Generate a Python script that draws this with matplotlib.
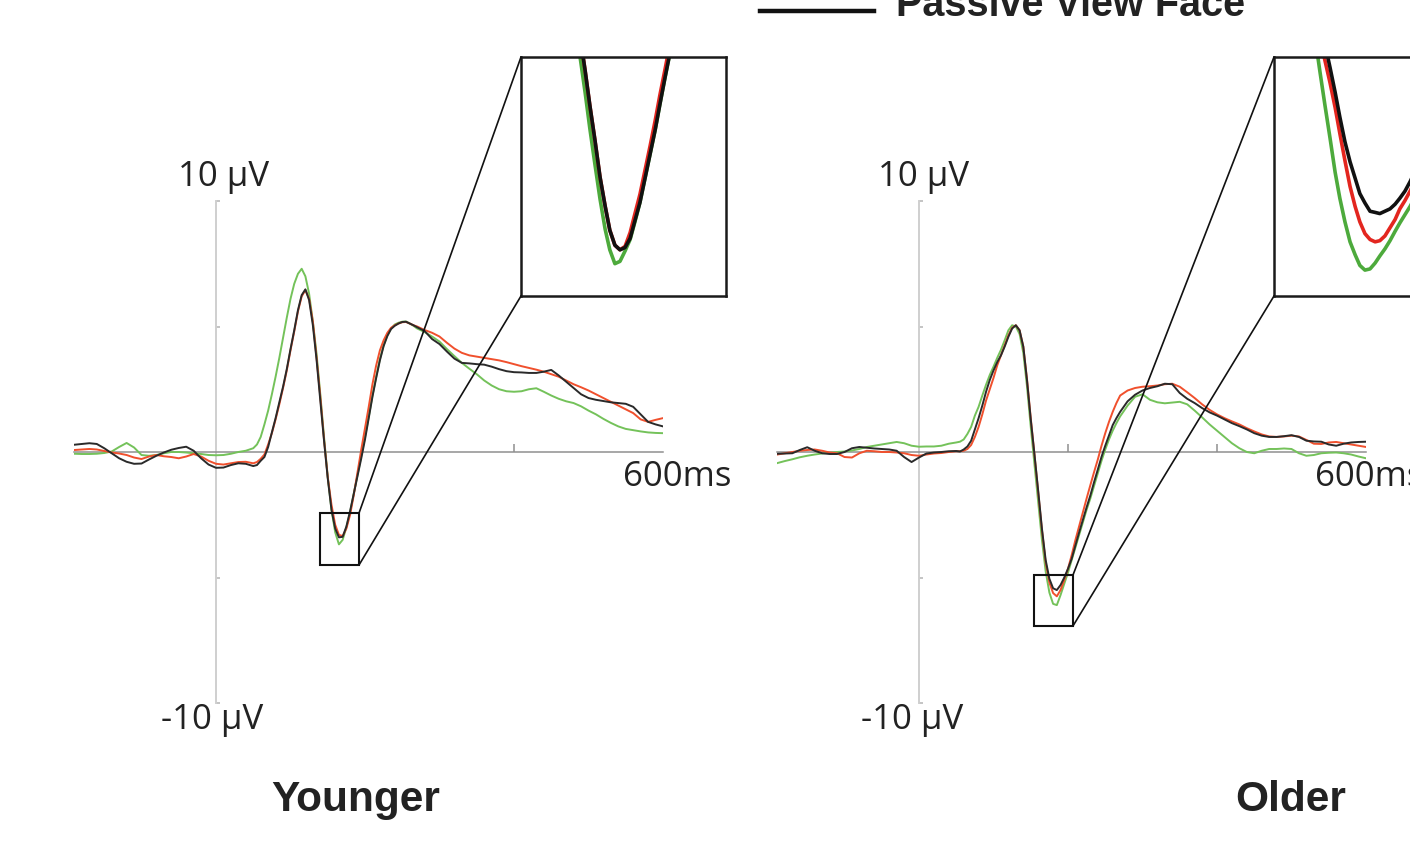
import numpy as np
import matplotlib
matplotlib.use("Agg")
import matplotlib.pyplot as plt
from matplotlib.patches import Rectangle, ConnectionPatch
from matplotlib.lines import Line2D

plt.rcParams['font.family'] = ['Open Sans', 'DejaVu Sans']

# time grid (ms)
t = np.r_[np.arange(-190, 51, 10), np.arange(55, 271, 5), np.arange(280, 601, 10)]

# Younger group (µV)
young_black = [0.29, 0.32, 0.35, 0.32, 0.15, -0.05, -0.25, -0.39, -0.47, -0.46, -0.3, -0.15, -0.02,
               0.09, 0.16, 0.21, 0.05, -0.25, -0.5, -0.63, -0.62, -0.52, -0.45, -0.47, -0.56,
               -0.52, -0.35, -0.2, 0.2, 0.78, 1.35, 1.98, 2.6, 3.3, 4.1, 4.85, 5.65, 6.25, 6.48, 6.05,
               5.05, 3.67, 2.05, 0.45, -1.05, -2.3, -3.05, -3.4, -3.38, -2.97, -2.35, -1.65, -0.95,
               -0.25, 0.5, 1.35, 2.2, 2.95, 3.65, 4.22, 4.62, 4.9, 5.03, 5.12, 5.18, 5.19, 5.12, 5.05, 4.97,
               4.82, 4.5, 4.3, 4.0, 3.72, 3.55, 3.53, 3.5, 3.48, 3.4, 3.3, 3.22, 3.18, 3.17, 3.15, 3.15,
               3.2, 3.27, 3.05, 2.8, 2.55, 2.3, 2.15, 2.08, 2.03, 1.98, 1.95, 1.92, 1.8, 1.5, 1.2, 1.1, 1.02]
young_red = [0.08, 0.1, 0.12, 0.1, 0.04, -0.02, -0.06, -0.12, -0.22, -0.28, -0.18, -0.12, -0.17,
             -0.2, -0.25, -0.18, -0.08, -0.18, -0.35, -0.47, -0.5, -0.45, -0.4, -0.39, -0.45,
             -0.4, -0.27, -0.1, 0.3, 0.75, 1.3, 1.9, 2.55, 3.25, 4.05, 4.8, 5.6, 6.2, 6.45, 6.1,
             5.2, 3.75, 2.2, 0.5, -1.0, -2.1, -2.9, -3.3, -3.35, -3.05, -2.5, -1.7, -0.8,
             0.1, 0.95, 1.8, 2.7, 3.45, 4.05, 4.45, 4.75, 4.95, 5.05, 5.12, 5.17, 5.18, 5.12, 5.05, 5.0,
             4.86, 4.75, 4.6, 4.35, 4.12, 3.95, 3.85, 3.8, 3.75, 3.7, 3.65, 3.58, 3.5, 3.42, 3.35, 3.28,
             3.2, 3.1, 3.0, 2.85, 2.7, 2.58, 2.45, 2.3, 2.15, 2.0, 1.85, 1.7, 1.55, 1.3, 1.2, 1.28, 1.35]
young_green = [-0.07, -0.08, -0.08, -0.07, -0.04, 0.02, 0.2, 0.36, 0.18, -0.12, -0.15, -0.12, -0.05,
               0.0, 0.0, -0.02, -0.05, -0.08, -0.12, -0.13, -0.12, -0.07, 0.0, 0.05, 0.15,
               0.3, 0.6, 1.1, 1.65, 2.3, 3.0, 3.75, 4.55, 5.35, 6.1, 6.7, 7.1, 7.3, 7.0, 6.3,
               5.2, 3.9, 2.3, 0.6, -1.0, -2.3, -3.2, -3.68, -3.5, -3.0, -2.4, -1.65, -0.9,
               -0.15, 0.6, 1.4, 2.25, 3.0, 3.7, 4.25, 4.65, 4.92, 5.08, 5.15, 5.19, 5.2, 5.12, 5.03, 4.92,
               4.78, 4.6, 4.4, 4.1, 3.82, 3.55, 3.32, 3.1, 2.85, 2.65, 2.5, 2.42, 2.4, 2.42, 2.5, 2.54,
               2.4, 2.25, 2.12, 2.02, 1.95, 1.82, 1.65, 1.5, 1.32, 1.16, 1.02, 0.92, 0.87, 0.82, 0.78, 0.76, 0.75]

# Older group (µV)
old_black = [-0.07, -0.06, -0.05, 0.08, 0.19, 0.05, -0.05, -0.08, -0.08, 0.0, 0.15, 0.2, 0.17,
             0.14, 0.12, 0.1, 0.05, -0.2, -0.4, -0.22, -0.06, -0.02, 0.0, 0.03, 0.04,
             0.02, 0.1, 0.22, 0.45, 0.9, 1.35, 1.85, 2.4, 2.87, 3.25, 3.58, 3.85, 4.2, 4.59, 4.92,
             5.05, 4.85, 4.2, 2.85, 1.3, -0.1, -1.55, -3.05, -4.3, -5.05, -5.43, -5.5, -5.3,
             -5.0, -4.65, -4.25, -3.72, -3.2, -2.7, -2.2, -1.73, -1.2, -0.7, -0.19, 0.25, 0.66, 1.07, 1.35, 1.6,
             2.02, 2.28, 2.45, 2.55, 2.62, 2.72, 2.7, 2.35, 2.12, 1.95, 1.75, 1.58, 1.45, 1.3, 1.15, 1.03,
             0.9, 0.75, 0.65, 0.6, 0.6, 0.63, 0.67, 0.6, 0.45, 0.42, 0.41, 0.3, 0.25, 0.33, 0.38, 0.4, 0.41]
old_red = [-0.1, -0.05, 0.0, 0.05, 0.08, 0.1, 0.05, -0.02, -0.05, -0.2, -0.22, -0.05, 0.05,
           0.03, 0.0, 0.0, -0.02, -0.05, -0.12, -0.15, -0.1, -0.06, -0.04, 0.0, 0.03,
           0.03, 0.05, 0.12, 0.28, 0.6, 1.0, 1.5, 2.05, 2.5, 2.95, 3.45, 3.85, 4.25, 4.65, 4.95,
           5.05, 4.85, 4.2, 2.9, 1.35, -0.1, -1.6, -3.1, -4.4, -5.2, -5.62, -5.75, -5.5,
           -5.1, -4.65, -4.1, -3.5, -2.95, -2.4, -1.85, -1.32, -0.8, -0.3, 0.25, 0.75, 1.2, 1.6, 1.95, 2.25,
           2.45, 2.55, 2.6, 2.62, 2.65, 2.7, 2.72, 2.6, 2.38, 2.15, 1.9, 1.68, 1.5, 1.35, 1.22, 1.1,
           0.95, 0.82, 0.7, 0.62, 0.6, 0.62, 0.65, 0.62, 0.48, 0.33, 0.32, 0.38, 0.4, 0.35, 0.3, 0.25, 0.2]
old_green = [-0.44, -0.36, -0.29, -0.21, -0.15, -0.1, -0.06, -0.03, 0.0, 0.02, 0.06, 0.12, 0.2,
             0.25, 0.3, 0.35, 0.4, 0.35, 0.25, 0.21, 0.22, 0.22, 0.25, 0.33, 0.38,
             0.41, 0.5, 0.72, 1.0, 1.45, 1.8, 2.25, 2.68, 3.07, 3.4, 3.75, 4.07, 4.45, 4.85, 5.05,
             5.0, 4.7, 3.95, 2.6, 1.0, -0.5, -2.0, -3.5, -4.75, -5.6, -6.05, -6.1, -5.7,
             -5.25, -4.8, -4.3, -3.8, -3.3, -2.8, -2.3, -1.85, -1.35, -0.85, -0.35, 0.1, 0.5, 0.85, 1.15, 1.42,
             1.85, 2.2, 2.3, 2.08, 1.98, 1.94, 1.97, 2.0, 1.9, 1.65, 1.38, 1.1, 0.85, 0.6, 0.35, 0.15,
             0.0, -0.05, 0.05, 0.12, 0.12, 0.14, 0.12, -0.05, -0.15, -0.12, -0.05, -0.03, -0.02, -0.05, -0.1, -0.18, -0.25]

# magnified views of the N170 trough
young_zoom_t = [153.4, 154.7, 156.0, 157.2, 158.5, 159.8, 161.1, 162.3, 163.6, 164.9,
                166.2, 167.5, 168.7, 170.0, 171.3, 172.6, 173.9, 175.1, 176.4, 177.7]
young_zoom_black = [-1.95, -2.25, -2.55, -2.85, -3.15, -3.47, -3.72, -3.93, -4.06, -4.10,
                    -4.08, -4.00, -3.85, -3.69, -3.48, -3.27, -3.06, -2.84, -2.61, -2.39]
young_zoom_red = [-1.95, -2.25, -2.55, -2.85, -3.15, -3.47, -3.72, -3.93, -4.06, -4.10,
                  -4.07, -3.95, -3.79, -3.62, -3.41, -3.20, -2.98, -2.76, -2.54, -2.31]
young_zoom_green = [-2.12, -2.43, -2.74, -3.05, -3.36, -3.66, -3.92, -4.10, -4.22, -4.20,
                    -4.11, -4.01, -3.86, -3.69, -3.48, -3.27, -3.06, -2.84, -2.61, -2.39]

old_zoom_t = [164.9, 166.1, 167.4, 168.7, 170.0, 171.2, 172.5, 173.8, 175.1, 176.3, 177.6,
              178.9, 180.2, 181.4, 182.7, 184.0, 185.3, 186.5, 187.8, 189.1, 190.4]
old_zoom_black = [-4.39, -4.59, -4.79, -4.99, -5.20, -5.41, -5.62, -5.79, -5.93, -6.06, -6.14,
                  -6.21, -6.22, -6.23, -6.21, -6.19, -6.15, -6.10, -6.04, -5.96, -5.87]
old_zoom_red = [-4.54, -4.74, -4.93, -5.12, -5.33, -5.55, -5.78, -6.00, -6.17, -6.30, -6.40,
                -6.45, -6.47, -6.46, -6.42, -6.35, -6.28, -6.19, -6.12, -6.04, -5.95]
old_zoom_green = [-4.74, -5.02, -5.31, -5.59, -5.88, -6.10, -6.30, -6.47, -6.58, -6.67, -6.71,
                  -6.70, -6.65, -6.59, -6.53, -6.46, -6.38, -6.31, -6.24, -6.17, -6.09]

C_RED, C_GREEN, C_BLACK = '#f0502d', '#74c25a', '#2a2a2a'
Z_RED, Z_GREEN, Z_BLACK = '#e3261f', '#4daa3c', '#111111'

W, H = 1410, 849
fig = plt.figure(figsize=(W / 100, H / 100), dpi=100)


def px_box(x0, y0, x1, y1):
    return [x0 / W, 1 - y1 / H, (x1 - x0) / W, (y1 - y0) / H]


def erp_panel(x0, black, red, green, xticks, box, inset_px, zt, zb, zr, zg, label_x):
    # x0 = pixel of t=0 ; 0.745 px per ms
    ax = fig.add_axes(px_box(x0 - 190 * 0.745, 201, x0 + 600 * 0.745, 703))
    ax.patch.set_visible(False)
    ax.set_xlim(-190, 600)
    ax.set_ylim(-10, 10)
    for s in ['top', 'right']:
        ax.spines[s].set_visible(False)
    ax.spines['left'].set_position(('data', 0))
    ax.spines['bottom'].set_position(('data', 0))
    ax.spines['left'].set_color('#cfcfcf')
    ax.spines['left'].set_linewidth(1.4)
    ax.spines['bottom'].set_color('#909090')
    ax.spines['bottom'].set_linewidth(1.1)
    ax.set_yticks([-10, -5, 5, 10])
    ax.set_xticks(xticks)
    ax.tick_params(axis='y', direction='in', length=3, width=1.4, color='#c4c4c4', labelleft=False)
    ax.tick_params(axis='x', direction='in', length=6, width=1.1, color='#909090', labelbottom=False)

    ax.plot(t, green, color=C_GREEN, lw=1.4, zorder=3, solid_joinstyle='round')
    ax.plot(t, red, color=C_RED, lw=1.4, zorder=4, solid_joinstyle='round')
    ax.plot(t, black, color=C_BLACK, lw=1.4, zorder=5, solid_joinstyle='round')

    ax.text(label_x[0], -1.0, '600ms', fontsize=25, ha='left', va='center', color='#222')
    ax.text(label_x[1], 10.95, '10 µV', fontsize=25, ha='center', va='center', color='#222')
    ax.text(label_x[2], -10.68, '-10 µV', fontsize=25, ha='center', va='center', color='#222')

    bx0, by0, bx1, by1 = box
    ax.add_patch(Rectangle((bx0, by0), bx1 - bx0, by1 - by0, fill=False, ec='#111',
                           lw=1.5, zorder=6))

    ins = fig.add_axes(px_box(*inset_px))
    ins.set_xlim(bx0, bx1)
    ins.set_ylim(by0, by1)
    ins.set_xticks([])
    ins.set_yticks([])
    for s in ins.spines.values():
        s.set_linewidth(1.8)
        s.set_color('#1a1a1a')
    ins.plot(zt, zg, color=Z_GREEN, lw=2.6, solid_joinstyle='round')
    ins.plot(zt, zr, color=Z_RED, lw=2.6, solid_joinstyle='round')
    ins.plot(zt, zb, color=Z_BLACK, lw=2.6, solid_joinstyle='round')

    for ya, yb in [(by1, 1), (by0, 0)]:
        con = ConnectionPatch(xyA=(bx1, ya), coordsA=ax.transData, xyB=(0, yb),
                              coordsB=ins.transAxes, color='#111', lw=1.2)
        fig.add_artist(con)
    return ax


erp_panel(216, young_black, young_red, young_green, [400],
          (139.6, -4.5, 192.0, -2.43), (521, 57, 726, 296),
          young_zoom_t, young_zoom_black, young_zoom_red, young_zoom_green,
          (546, 10.5, -5.5))
erp_panel(919, old_black, old_red, old_green, [200, 400],
          (154.4, -6.93, 206.7, -4.9), (1274, 57, 1479, 296),
          old_zoom_t, old_zoom_black, old_zoom_red, old_zoom_green,
          (531, 6.7, -9.4))

bold = ['Liberation Sans', 'DejaVu Sans']
fig.text(356 / W, 1 - 800 / H, 'Younger', fontsize=30.5, fontweight='bold', family=bold,
         ha='center', va='center', color='#222')
fig.text(1291 / W, 1 - 800 / H, 'Older', fontsize=30.5, fontweight='bold', family=bold,
         ha='center', va='center', color='#222')

# legend entry (top is cropped in the original)
fig.add_artist(Line2D([760 / W, 874 / W], [1 - 11 / H, 1 - 11 / H], color='#111', lw=3.2))
fig.text(896 / W, 1 - 16 / H, 'Passive View Face', fontsize=28.5, fontweight='bold',
         family=bold, ha='left', va='baseline', color='#222')

fig.savefig('out.png', dpi=100)
